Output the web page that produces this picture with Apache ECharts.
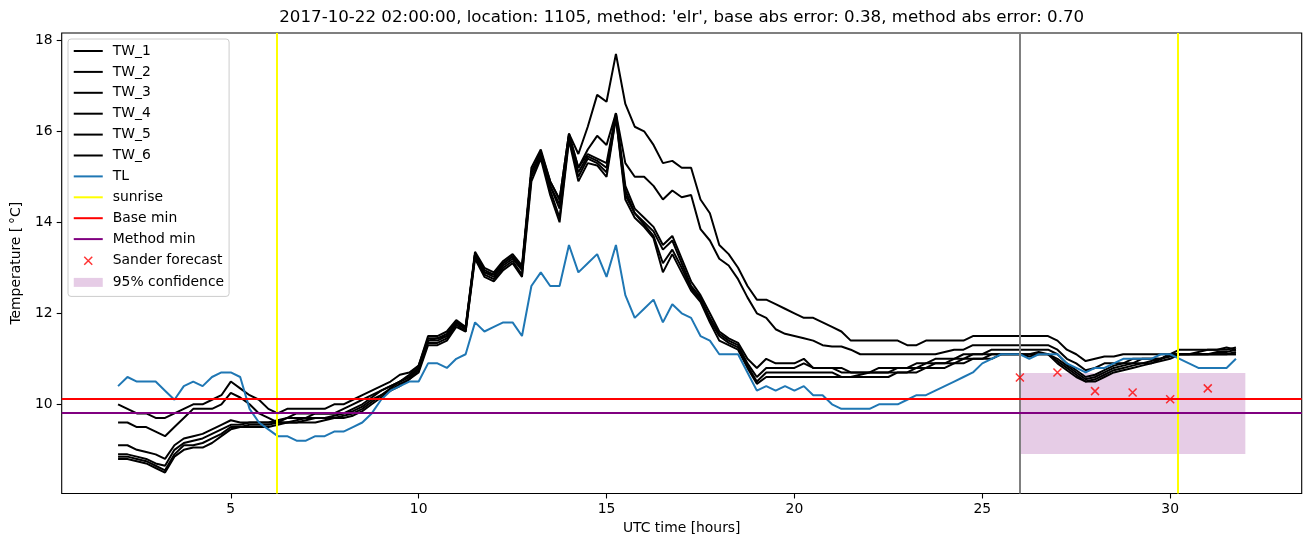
<!DOCTYPE html>
<html><head><meta charset="utf-8">
<script src="https://cdn.jsdelivr.net/npm/echarts@6/dist/echarts.min.js"></script>
<style>html,body{margin:0;padding:0;background:#fff}#c{width:1311px;height:547px}</style>
</head><body><div id="c"></div>
<script>
// sample times (UTC hours), quarter-hour grid from 02:00 to 31:45
const hours = [];
for (let i = 0; i < 120; i++) hours.push(2 + 0.25 * i);

const TW_1 = [
10.0,9.9,9.8,9.8, 9.7,9.7,9.8,9.9, 10.0,10.0,10.1,10.2, 10.5,10.35,10.2,10.1,
9.9,9.8,9.9,9.9, 9.9,9.9,9.9,10.0, 10.0,10.1,10.2,10.3, 10.4,10.5,10.65,10.7,
10.85,11.5,11.5,11.6, 11.85,11.7,13.35,13.0, 12.9,13.15,13.3,13.05, 15.2,15.6,14.9,14.5,
15.95,15.5,16.1,16.8, 16.65,17.7,16.6,16.1, 16.0,15.7,15.3,15.35, 15.2,15.2,14.5,14.2,
13.5,13.3,13.0,12.6, 12.3,12.3,12.2,12.1, 12.0,11.9,11.9,11.8, 11.7,11.6,11.4,11.4,
11.4,11.4,11.4,11.4, 11.3,11.3,11.4,11.4, 11.4,11.4,11.4,11.5, 11.5,11.5,11.5,11.5,
11.5,11.5,11.5,11.5, 11.4,11.2,11.1,10.95, 11.0,11.05,11.05,11.1, 11.1,11.1,11.1,11.1,
11.1,11.2,11.2,11.2, 11.2,11.2,11.25,11.2
];
const TW_2 = [
9.6,9.6,9.5,9.5, 9.4,9.3,9.5,9.7, 9.9,9.9,9.9,10.0, 10.25,10.15,10.0,9.8,
9.7,9.6,9.7,9.8, 9.8,9.8,9.8,9.8, 9.9,10.0,10.1,10.2, 10.3,10.4,10.5,10.65,
10.85,11.45,11.45,11.55, 11.8,11.65,13.3,12.9, 12.85,13.1,13.25,13.0, 15.1,15.5,14.8,14.4,
15.9,15.2,15.6,15.9, 15.7,16.4,15.3,15.0, 15.0,14.8,14.5,14.7, 14.55,14.6,13.85,13.6,
13.2,13.05,12.75,12.35, 12.0,11.9,11.65,11.55, 11.5,11.45,11.4,11.3, 11.27,11.27,11.2,11.1,
11.1,11.1,11.1,11.1, 11.1,11.1,11.1,11.1, 11.15,11.2,11.2,11.3, 11.3,11.3,11.3,11.3,
11.3,11.3,11.3,11.3, 11.2,11.0,10.9,10.75, 10.8,10.9,10.9,10.9, 11.0,11.0,11.0,11.0,
11.1,11.1,11.1,11.1, 11.1,11.1,11.1,11.1
];
const TW_3 = [
9.1,9.1,9.0,8.95, 8.9,8.8,9.1,9.25, 9.3,9.35,9.45,9.55, 9.65,9.6,9.6,9.6,
9.6,9.65,9.7,9.7, 9.7,9.8,9.8,9.8, 9.8,9.9,10.0,10.15, 10.3,10.4,10.5,10.6,
10.8,11.4,11.45,11.5, 11.8,11.7,13.3,12.95, 12.85,13.1,13.25,13.0, 15.1,15.55,14.9,14.5,
15.95,15.2,15.5,15.4, 15.3,16.4,14.8,14.3, 14.1,13.9,13.5,13.7, 13.2,12.7,12.4,12.0,
11.6,11.45,11.35,11.0, 10.8,11.0,10.9,10.9, 10.9,11.0,10.8,10.8, 10.8,10.8,10.7,10.7,
10.7,10.7,10.7,10.8, 10.8,10.9,10.9,11.0, 11.0,11.0,11.1,11.1, 11.1,11.2,11.2,11.2,
11.2,11.2,11.2,11.2, 11.1,10.9,10.75,10.6, 10.65,10.75,10.85,10.9, 10.9,11.0,11.0,11.0,
11.1,11.1,11.1,11.15, 11.2,11.2,11.2,11.25
];
const TW_4 = [
8.9,8.9,8.85,8.8, 8.7,8.65,9.0,9.15, 9.2,9.25,9.35,9.45, 9.55,9.55,9.6,9.6,
9.6,9.6,9.6,9.65, 9.7,9.7,9.7,9.75, 9.8,9.85,9.95,10.1, 10.2,10.35,10.5,10.6,
10.8,11.4,11.4,11.5, 11.8,11.65,13.3,12.9, 12.8,13.05,13.2,12.95, 15.1,15.5,14.8,14.3,
15.9,15.1,15.45,15.35, 15.2,16.35,14.7,14.2, 14.0,13.8,13.4,13.6, 13.1,12.6,12.35,11.9,
11.55,11.4,11.3,10.9, 10.6,10.8,10.8,10.8, 10.8,10.9,10.8,10.8, 10.8,10.7,10.7,10.7,
10.7,10.8,10.8,10.8, 10.8,10.8,10.9,10.9, 10.9,11.0,11.0,11.1, 11.1,11.1,11.1,11.1,
11.1,11.1,11.15,11.1, 11.0,10.85,10.7,10.55, 10.6,10.7,10.8,10.85, 10.9,10.9,10.95,11.0,
11.1,11.1,11.1,11.1, 11.1,11.15,11.15,11.2
];
const TW_5 = [
8.85,8.85,8.8,8.75, 8.65,8.55,8.9,9.1, 9.1,9.15,9.25,9.35, 9.5,9.5,9.55,9.55,
9.55,9.6,9.6,9.6, 9.65,9.7,9.7,9.7, 9.75,9.8,9.9,10.05, 10.2,10.3,10.45,10.55,
10.75,11.35,11.35,11.45, 11.75,11.6,13.25,12.85, 12.75,13.0,13.15,12.85, 15.0,15.45,14.7,14.1,
15.85,15.0,15.4,15.3, 15.1,16.3,14.6,14.2, 13.95,13.7,13.1,13.4, 13.0,12.55,12.3,11.85,
11.5,11.35,11.25,10.85, 10.5,10.7,10.7,10.7, 10.7,10.7,10.7,10.7, 10.7,10.6,10.6,10.65,
10.7,10.7,10.7,10.7, 10.7,10.8,10.8,10.9, 10.9,10.9,11.0,11.0, 11.0,11.1,11.1,11.1,
11.1,11.1,11.1,11.1, 10.95,10.8,10.65,10.5, 10.55,10.65,10.75,10.8, 10.85,10.9,10.9,11.0,
11.05,11.1,11.1,11.1, 11.1,11.1,11.1,11.15
];
const TW_6 = [
8.8,8.8,8.75,8.7, 8.6,8.5,8.85,9.0, 9.05,9.05,9.15,9.3, 9.45,9.5,9.5,9.5,
9.5,9.55,9.6,9.6, 9.6,9.6,9.65,9.7, 9.7,9.75,9.85,10.0, 10.15,10.3,10.4,10.55,
10.7,11.3,11.3,11.4, 11.7,11.6,13.2,12.8, 12.7,12.95,13.1,12.8, 14.9,15.4,14.6,14.0,
15.8,14.9,15.3,15.25, 15.0,16.3,14.5,14.1, 13.9,13.65,12.9,13.3, 12.9,12.5,12.25,11.8,
11.4,11.3,11.2,10.8, 10.45,10.6,10.6,10.6, 10.6,10.6,10.6,10.6, 10.6,10.6,10.6,10.6,
10.6,10.6,10.6,10.7, 10.7,10.7,10.8,10.8, 10.8,10.9,10.9,11.0, 11.0,11.0,11.1,11.1,
11.1,11.05,11.1,11.1, 10.9,10.75,10.6,10.5, 10.5,10.6,10.7,10.75, 10.8,10.85,10.9,10.95,
11.0,11.1,11.1,11.1, 11.1,11.1,11.1,11.1
];
const TL = [
10.4,10.6,10.5,10.5, 10.5,10.3,10.1,10.4, 10.5,10.4,10.6,10.7, 10.7,10.6,9.9,9.6,
9.45,9.3,9.3,9.2, 9.2,9.3,9.3,9.4, 9.4,9.5,9.6,9.8, 10.1,10.3,10.4,10.5,
10.5,10.9,10.9,10.8, 11.0,11.1,11.8,11.6, 11.7,11.8,11.8,11.5, 12.6,12.9,12.6,12.6,
13.5,12.9,13.1,13.3, 12.8,13.5,12.4,11.9, 12.1,12.3,11.8,12.2, 12.0,11.9,11.5,11.4,
11.1,11.1,11.1,10.7, 10.3,10.4,10.3,10.4, 10.3,10.4,10.2,10.2, 10.0,9.9,9.9,9.9,
9.9,10.0,10.0,10.0, 10.1,10.2,10.2,10.3, 10.4,10.5,10.6,10.7, 10.9,11.0,11.1,11.1,
11.1,11.0,11.1,11.1, 11.1,10.9,10.8,10.7, 10.8,10.8,10.9,11.0, 11.0,11.0,11.0,11.1,
11.1,11.0,10.9,10.8, 10.8,10.8,10.8,11.0
];

const sunriseHours = [6.22, 30.21];
const baseMin = 10.12;
const methodMin = 9.82;
const forecastStart = 26.0;
const sanderHours = [26, 27, 28, 29, 30, 31];
const sanderValues = [10.59, 10.70, 10.29, 10.26, 10.11, 10.35];
const confHours = [26, 32];
const confRange = [8.91, 10.69];
const xTicks = [5, 10, 15, 20, 25, 30];
const yTicks = [10, 12, 14, 16, 18];

const FONT = 'DejaVu Sans';
const lineIcon = 'path://M0,0L29,0L29,2L0,2Z';
const crossPath = 'path://M0,0L10,10M10,0L0,10';
const crossIcon = 'path://M0,0L8,8M8,0L0,8M-10.5,-3M18.5,11';
const patchIcon = 'path://M0,0L29,0L29,9L0,9ZM0,-2.5M29,11.5';
const bandColor = 'rgba(128,0,128,0.2)';

function lineSeries(name, arr, color) {
  return {
    name: name, type: 'line', color: color,
    data: hours.map((h, i) => [h, arr[i]]),
    symbol: 'none', showSymbol: false, z: 2,
    lineStyle: { width: 2, color: color }
  };
}
function vhSeries(name, color, lines, z) {
  return {
    name: name, type: 'line', color: color, data: [], z: 3,
    markLine: {
      silent: true, symbol: ['none', 'none'], z: z,
      label: { show: false },
      lineStyle: { color: color, width: 2, type: 'solid' },
      emphasis: { disabled: true },
      data: lines
    }
  };
}

const chart = echarts.init(document.getElementById('c'), null, { renderer: 'canvas' });
const legendNames = ['TW_1','TW_2','TW_3','TW_4','TW_5','TW_6','TL','sunrise','Base min','Method min'];
chart.setOption({
  animation: false,
  backgroundColor: '#ffffff',
  textStyle: { fontFamily: FONT },
  title: {
    text: "2017-10-22 02:00:00, location: 1105, method: 'elr', base abs error: 0.38, method abs error: 0.70",
    left: 681.7, top: 9, padding: 0, textAlign: 'center',
    textStyle: { fontFamily: FONT, fontSize: 16.67, fontWeight: 'normal', color: '#000' }
  },
  grid: { left: 61.7, right: 9.3, top: 33, bottom: 53.5, show: true, borderColor: '#000', borderWidth: 1.1, backgroundColor: 'transparent' },
  xAxis: {
    type: 'value', min: 0.5, max: 33.5,
    name: 'UTC time [hours]', nameLocation: 'middle', nameGap: 28,
    nameTextStyle: { fontFamily: FONT, fontSize: 13.9, color: '#000' },
    axisLine: { show: false },
    axisTick: { show: true, inside: false, length: 5, customValues: xTicks, lineStyle: { color: '#000', width: 1.1 } },
    axisLabel: { customValues: xTicks, margin: 9, fontFamily: FONT, fontSize: 13.9, color: '#000' },
    splitLine: { show: false }
  },
  yAxis: {
    type: 'value', min: 8.04, max: 18.16,
    name: 'Temperature [\u2009°C]', nameLocation: 'middle', nameGap: 38, nameRotate: 90,
    nameTextStyle: { fontFamily: FONT, fontSize: 13.9, color: '#000' },
    axisLine: { show: false },
    axisTick: { show: true, inside: false, length: 5, customValues: yTicks, lineStyle: { color: '#000', width: 1.1 } },
    axisLabel: { customValues: yTicks, margin: 9, fontFamily: FONT, fontSize: 13.9, color: '#000' },
    splitLine: { show: false }
  },
  legend: {
    orient: 'vertical', left: 68, top: 39,
    padding: [5, 5, 7, 5],
    itemWidth: 29, itemHeight: 14, itemGap: 6.9,
    backgroundColor: 'rgba(255,255,255,0.8)', borderColor: '#cccccc', borderWidth: 1, borderRadius: 3,
    itemStyle: { borderWidth: 0 },
    textStyle: { fontFamily: FONT, fontSize: 13.9, color: '#000', lineHeight: 14, padding: [0, 0, 0, 5] },
    selectedMode: false,
    data: legendNames.map(n => ({ name: n, icon: lineIcon })).concat([
      { name: 'Sander forecast', icon: crossIcon, itemStyle: { color: '#ff0000', borderColor: '#ff0000', borderWidth: 1.5 } },
      { name: '95% confidence', icon: patchIcon, itemStyle: { color: bandColor, borderWidth: 0 } }
    ])
  },
  series: [
    lineSeries('TW_1', TW_1, '#000000'),
    lineSeries('TW_2', TW_2, '#000000'),
    lineSeries('TW_3', TW_3, '#000000'),
    lineSeries('TW_4', TW_4, '#000000'),
    lineSeries('TW_5', TW_5, '#000000'),
    lineSeries('TW_6', TW_6, '#000000'),
    lineSeries('TL', TL, '#1f77b4'),
    vhSeries('forecast start', '#808080', [{ xAxis: forecastStart }], 4),
    vhSeries('sunrise', '#ffff00', sunriseHours.map(h => ({ xAxis: h })), 5),
    vhSeries('Base min', '#ff0000', [{ yAxis: baseMin }], 5),
    vhSeries('Method min', '#800080', [{ yAxis: methodMin }], 5),
    {
      name: 'Sander forecast', type: 'scatter', z: 6,
      data: sanderHours.map((h, i) => [h, sanderValues[i]]),
      symbol: crossPath, symbolSize: 8,
      itemStyle: { color: '#ff0000', borderColor: '#ff0000', borderWidth: 1.5 }
    },
    {
      name: '95% confidence', type: 'line', color: bandColor, data: [], z: 1,
      markArea: {
        silent: true, z: 1,
        itemStyle: { color: bandColor },
        data: [[{ xAxis: confHours[0], yAxis: confRange[0] }, { xAxis: confHours[1], yAxis: confRange[1] }]]
      }
    }
  ]
});
</script>
</body></html>
